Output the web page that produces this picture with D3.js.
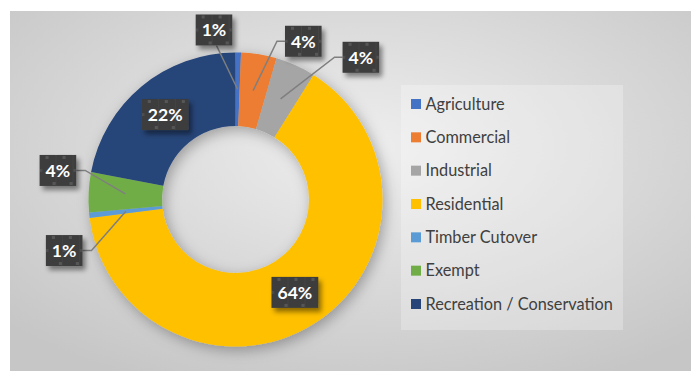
<!DOCTYPE html>
<html>
<head>
<meta charset="utf-8">
<script src="https://cdn.jsdelivr.net/npm/d3@7"></script>
<style>
  html, body { margin: 0; padding: 0; background: #ffffff; }
  svg { display: block; }
</style>
</head>
<body>
<svg id="chart" width="691" height="371"></svg>
<script>
// Land use shares (percent of total)
const categories = ["Agriculture", "Commercial", "Industrial", "Residential",
                    "Timber Cutover", "Exempt", "Recreation / Conservation"];
const shares = [0.6, 3.9, 4.4, 64.1, 0.6, 4.4, 22.0];
const sliceColors = ["#4472C4", "#ED7D31", "#A5A5A5", "#FFC000",
                     "#5B9BD5", "#70AD47", "#264478"];

// Callout placement for the thin slices: offset of the label box from the
// slice centroid, and which side of the box the leader line leaves from.
const callouts = {
  "Agriculture":    { dx: -23.6, dy: -59.3, side: "bottom" },
  "Commercial":     { dx:  50.2, dy: -49.4, side: "left" },
  "Industrial":     { dx:  80.3, dy: -41.6, side: "left" },
  "Timber Cutover": { dx: -61.7, dy:  39.3, side: "right" },
  "Exempt":         { dx: -67.5, dy: -23.5, side: "right" }
};

const W = 691, H = 371;
const cx = 235.5, cy = 199.5, rOuter = 147, rInner = 73.5;

const svg = d3.select("#chart");
const defs = svg.append("defs");

// Plot-area background: soft radial grey gradient
const bg = defs.append("radialGradient").attr("id", "bgGrad")
  .attr("cx", "52%").attr("cy", "38%").attr("r", "72%");
bg.append("stop").attr("offset", "0%").attr("stop-color", "#eeeeee");
bg.append("stop").attr("offset", "100%").attr("stop-color", "#c6c6c6");

// Soft shadow for the ring
const ringShadow = defs.append("filter").attr("id", "ringShadow")
  .attr("x", "-20%").attr("y", "-20%").attr("width", "140%").attr("height", "140%");
ringShadow.append("feDropShadow").attr("dx", 3).attr("dy", 4)
  .attr("stdDeviation", 7).attr("flood-color", "#000").attr("flood-opacity", 0.3);

// Shadow for the label boxes
const boxShadow = defs.append("filter").attr("id", "boxShadow")
  .attr("x", "-30%").attr("y", "-30%").attr("width", "160%").attr("height", "170%");
boxShadow.append("feDropShadow").attr("dx", 3).attr("dy", 4)
  .attr("stdDeviation", 2.5).attr("flood-color", "#000").attr("flood-opacity", 0.45);

svg.append("rect")
  .attr("x", 10).attr("y", 11)
  .attr("width", W - 10).attr("height", H - 11)
  .attr("fill", "url(#bgGrad)");

// Donut
const pie = d3.pie().value(d => d.value).sort(null)
  .startAngle(0).endAngle(2 * Math.PI);
const arc = d3.arc().innerRadius(rInner).outerRadius(rOuter);

const data = categories.map((c, i) => ({ name: c, value: shares[i], color: sliceColors[i] }));
const arcs = pie(data);

const ring = svg.append("g")
  .attr("transform", `translate(${cx},${cy})`)
  .attr("filter", "url(#ringShadow)");
ring.selectAll("path").data(arcs).join("path")
  .attr("d", arc)
  .attr("fill", d => d.data.color);

// Data labels
const labelFont = "Lato, 'Open Sans', sans-serif";
const labelSize = 17.6;
const padX = 6, boxH = 31;

const labels = svg.append("g");
const measure = svg.append("text")
  .attr("font-family", labelFont).attr("font-size", labelSize).attr("font-weight", 700)
  .attr("visibility", "hidden");

arcs.forEach((a, i) => {
  const txt = Math.round(a.data.value) + "%";
  measure.text(txt);
  const tw = measure.node().getComputedTextLength();
  const boxW = tw + padX * 2;
  const [mx, my] = arc.centroid(a);
  const px = cx + mx, py = cy + my;
  const co = callouts[a.data.name];
  const bx = co ? px + co.dx : px;
  const by = co ? py + co.dy : py;
  const x0 = bx - boxW / 2, y0 = by - boxH / 2;

  if (co) {
    let pts;
    if (co.side === "bottom") {
      pts = [[bx + 2.5, y0 + boxH], [px, py]];
    } else if (co.side === "left") {
      pts = [[x0, by], [x0 - 8, by], [px, py]];
    } else {
      pts = [[x0 + boxW, by], [x0 + boxW + 9, by], [px, py]];
    }
    labels.append("path")
      .attr("d", d3.line()(pts))
      .attr("fill", "none")
      .attr("stroke", "#7f7f7f")
      .attr("stroke-width", 1.5);
  }

  // textured dark box
  const pid = "tex" + i;
  const pat = defs.append("pattern").attr("id", pid)
    .attr("patternUnits", "userSpaceOnUse")
    .attr("x", x0).attr("y", y0).attr("width", 17).attr("height", boxH);
  pat.append("rect").attr("width", 17).attr("height", boxH).attr("fill", "#3d3d3d");
  pat.append("rect").attr("x", 16.5).attr("y", 0).attr("width", 0.6).attr("height", boxH).attr("fill", "#4a4a4a");
  pat.append("rect").attr("x", 6).attr("y", 1).attr("width", 3).attr("height", 3).attr("fill", "#575757");
  pat.append("rect").attr("x", 13).attr("y", boxH - 4).attr("width", 3).attr("height", 3).attr("fill", "#575757");
  pat.append("rect").attr("x", 0).attr("y", boxH / 2 - 1.5).attr("width", 2.5).attr("height", 3).attr("fill", "#4f4f4f");

  labels.append("rect")
    .attr("x", x0).attr("y", y0).attr("width", boxW).attr("height", boxH)
    .attr("fill", `url(#${pid})`)
    .attr("filter", "url(#boxShadow)");
  labels.append("text")
    .attr("x", bx).attr("y", by + labelSize * 0.36)
    .attr("text-anchor", "middle")
    .attr("font-family", labelFont).attr("font-size", labelSize).attr("font-weight", 700)
    .attr("fill", "#ffffff")
    .text(txt);
});
measure.remove();

// Legend
const legend = svg.append("g");
legend.append("rect")
  .attr("x", 401).attr("y", 85).attr("width", 222).attr("height", 245)
  .attr("fill", "#ffffff").attr("fill-opacity", 0.25);

const legY = d3.scalePoint().domain(categories).range([104, 304]);
const item = legend.selectAll("g.item").data(data).join("g")
  .attr("class", "item")
  .attr("transform", d => `translate(0,${legY(d.name)})`);
item.append("rect")
  .attr("x", 411).attr("y", -5).attr("width", 10).attr("height", 10)
  .attr("fill", d => d.color);
item.append("text")
  .attr("x", 425.5).attr("y", 5.8)
  .attr("font-family", labelFont).attr("font-size", 16.3)
  .attr("fill", "#404040")
  .text(d => d.name);
</script>
</body>
</html>
